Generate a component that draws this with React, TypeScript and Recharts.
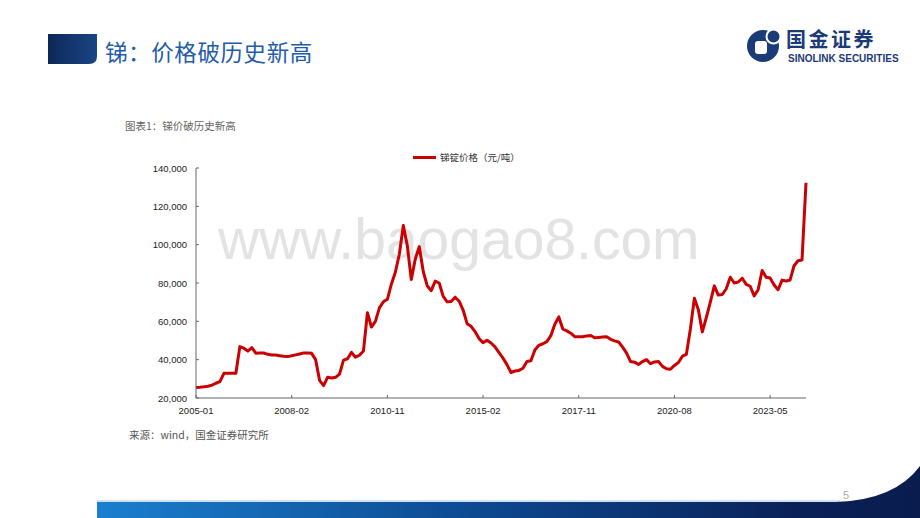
import { LineChart, Line, XAxis, YAxis, Legend } from 'recharts'

// 横轴标签（每 24 个数据点一个刻度）
const dateLabels = ['2005-01', '2008-02', '2010-11', '2015-02', '2017-11', '2020-08', '2023-05']
const labelStep = 24

// 锑锭价格（元/吨）
const antimonyPrice = [
  25500, 25650, 25850, 26100, 26700, 27700, 28500, 32900, 32900, 32900,
  32900, 46800, 46000, 44500, 46300, 43400, 43500, 43500, 42800, 42400,
  42400, 42100, 41800, 41600, 42000, 42500, 43000, 43500, 43500, 43300,
  40000, 29200, 26500, 30800, 30400, 30800, 32500, 39800, 40500, 43800,
  41300, 42300, 44500, 64500, 57000, 60000, 67000, 70200, 71500, 79400,
  85600, 95000, 110000, 99500, 81800, 92500, 99000, 86000, 78500, 76000,
  81000, 80000, 73000, 70200, 70300, 72600, 70500, 65900, 58800, 57400,
  54600, 51000, 48900, 50100, 48700, 46700, 43700, 40800, 37400, 33300,
  34100, 34400, 35500, 39100, 39400, 45000, 47500, 48300, 49400, 52500,
  58500, 62300, 56000, 55000, 53800, 52000, 52000, 52000, 52400, 52600,
  51400, 51600, 51800, 52000, 50600, 49800, 49200, 46500, 43400, 39000,
  38700, 37500, 39000, 40000, 37900, 38800, 39000, 36500, 35300, 35000,
  37000, 38500, 41800, 42800, 56000, 72000, 66000, 54500, 62000, 70000,
  78500, 73700, 74000, 77000, 83000, 80000, 80500, 82500, 79300, 78300,
  73300, 76500, 86500, 83000, 82600, 79000, 76500, 81500, 81000, 81500,
  89000, 91600, 92000, 132300,
]

const yTicks = [20000, 40000, 60000, 80000, 100000, 120000, 140000]

const data = antimonyPrice.map((price, idx) => ({ idx, price }))
const xTicks = dateLabels.map((_, i) => i * labelStep)

const numFont = '"Liberation Sans", Arial, "Noto Sans CJK SC", sans-serif'
const cjkFont = '"Noto Sans CJK SC", "Liberation Sans", sans-serif'

function YTick(props: any) {
  const { x, y, payload } = props
  return (
    <g>
      <line x1={x + 9} x2={x + 12} y1={y} y2={y} stroke="#666" />
      <text x={x} y={y} dy={3.5} textAnchor="end" fontSize={9.5} fill="#222" fontFamily={numFont}>
        {Number(payload.value).toLocaleString('en-US')}
      </text>
    </g>
  )
}

function XTick(props: any) {
  const { x, y, payload } = props
  return (
    <g>
      <line x1={x} x2={x} y1={y - 6} y2={y - 9} stroke="#666" />
      <text x={x} y={y} dy={9.5} textAnchor="middle" fontSize={9.5} fill="#222" fontFamily={numFont}>
        {dateLabels[Math.round(payload.value / labelStep)]}
      </text>
    </g>
  )
}

function LegendBox() {
  return (
    <div style={{ display: 'flex', alignItems: 'center', height: 14, whiteSpace: 'nowrap' }}>
      <span style={{ display: 'inline-block', width: 23, height: 3, background: '#cc0000' }} />
      <span style={{ marginLeft: 4, fontSize: 9.5, color: '#333', fontFamily: cjkFont }}>锑锭价格（元/吨）</span>
    </div>
  )
}

export default function App() {
  return (
    <div
      style={{
        position: 'absolute',
        left: 0,
        top: 0,
        width: 920,
        height: 518,
        background: '#fff',
        overflow: 'hidden',
      }}
    >
      <svg width={920} height={518} style={{ position: 'absolute', left: 0, top: 0 }}>
        <defs>
          <linearGradient id="blk" x1="0" x2="1" y1="0" y2="0">
            <stop offset="0" stopColor="#0c2858" />
            <stop offset="1" stopColor="#1a4585" />
          </linearGradient>
          <linearGradient id="foot" x1="0" x2="1" y1="0" y2="0">
            <stop offset="0" stopColor="#1b7fcf" />
            <stop offset="0.45" stopColor="#0d4a92" />
            <stop offset="0.85" stopColor="#0a2158" />
            <stop offset="1" stopColor="#0a1c4e" />
          </linearGradient>
        </defs>

        {/* 标题 */}
        <path d="M48 34 H97 V56 Q97 64 89 64 H48 Z" fill="url(#blk)" />
        <text x={105} y={61} fontSize={22.5} fill="#1f5ca9" fontFamily={cjkFont} letterSpacing={0.6}>
          锑：价格破历史新高
        </text>

        {/* logo */}
        <circle cx={763} cy={46} r={16} fill="#1b3a78" />
        <circle cx={773.5} cy={36.5} r={7} fill="#1b3a78" stroke="#fff" strokeWidth={2} />
        <rect x={755} y={41} width={12} height={13} rx={3} fill="#fff" />
        <text x={786} y={47} fontSize={20} fontWeight={700} fill="#1b3a78" fontFamily={cjkFont} letterSpacing={2.5}>
          国金证券
        </text>
        <text x={788} y={62} fontSize={10} fontWeight={700} fill="#1b3a78" fontFamily={numFont}>
          SINOLINK SECURITIES
        </text>

        {/* 水印 */}
        <text x={218} y={259} fontSize={57} fill="#e3e3e3" fontFamily={numFont}>
          www.baogao8.com
        </text>

        {/* 图表标题与来源 */}
        <text x={125} y={130} fontSize={10.5} fill="#666" fontFamily={cjkFont}>
          图表1：锑价破历史新高
        </text>
        <text x={129} y={439} fontSize={10.5} fill="#555" fontFamily={cjkFont}>
          来源：wind，国金证券研究所
        </text>

        {/* 页脚 */}
        <line x1={97} x2={840} y1={501} y2={501} stroke="#9fc3e6" strokeWidth={1} />
        <path d="M97 502 H836 Q895 500 920 466 V518 H97 Z" fill="url(#foot)" />
        <text x={843} y={499} fontSize={11} fill="#aaa" fontFamily={numFont}>
          5
        </text>
      </svg>

      <div style={{ position: 'absolute', left: 120, top: 140 }}>
        <LineChart width={700} height={290} data={data} margin={{ top: 28, right: 14, bottom: 12, left: 0 }}>
          <XAxis
            dataKey="idx"
            type="number"
            domain={[0, antimonyPrice.length - 1]}
            ticks={xTicks}
            interval={0}
            tickSize={0}
            tickMargin={6}
            height={20}
            axisLine={{ stroke: '#666' }}
            tickLine={false}
            tick={(p: any) => <XTick {...p} />}
          />
          <YAxis
            type="number"
            domain={[20000, 140000]}
            ticks={yTicks}
            interval={0}
            width={76}
            tickSize={0}
            tickMargin={9}
            axisLine={{ stroke: '#666' }}
            tickLine={false}
            tick={(p: any) => <YTick {...p} />}
          />
          <Legend
            layout="horizontal"
            verticalAlign="middle"
            align="center"
            wrapperStyle={{ top: 10, left: 293, width: 'auto' }}
            content={() => <LegendBox />}
          />
          <Line
            type="linear"
            dataKey="price"
            name="锑锭价格（元/吨）"
            stroke="#cc0000"
            strokeWidth={3}
            strokeLinejoin="round"
            dot={false}
            activeDot={false}
            isAnimationActive={false}
          />
        </LineChart>
      </div>
    </div>
  )
}
